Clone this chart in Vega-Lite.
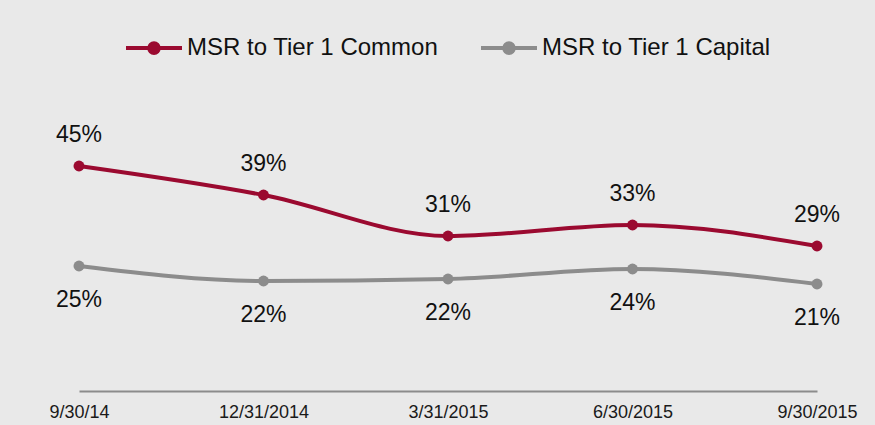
{
  "$schema": "https://vega.github.io/schema/vega-lite/v6.json",
  "width": 738,
  "height": 300,
  "autosize": "none",
  "padding": {"left": 79, "top": 91, "right": 58, "bottom": 34},
  "background": "#e9e9e9",
  "config": {"view": {"stroke": null}, "font": "Liberation Sans"},
  "data": {
    "values": [
      {"date": "9/30/14", "series": "MSR to Tier 1 Common", "value": 0.45},
      {"date": "12/31/2014", "series": "MSR to Tier 1 Common", "value": 0.392},
      {"date": "3/31/2015", "series": "MSR to Tier 1 Common", "value": 0.31},
      {"date": "6/30/2015", "series": "MSR to Tier 1 Common", "value": 0.332},
      {"date": "9/30/2015", "series": "MSR to Tier 1 Common", "value": 0.29},
      {"date": "9/30/14", "series": "MSR to Tier 1 Capital", "value": 0.25},
      {"date": "12/31/2014", "series": "MSR to Tier 1 Capital", "value": 0.22},
      {"date": "3/31/2015", "series": "MSR to Tier 1 Capital", "value": 0.224},
      {"date": "6/30/2015", "series": "MSR to Tier 1 Capital", "value": 0.244},
      {"date": "9/30/2015", "series": "MSR to Tier 1 Capital", "value": 0.214}
    ]
  },
  "encoding": {
    "x": {
      "field": "date",
      "type": "ordinal",
      "sort": null,
      "scale": {"type": "point", "padding": 0},
      "axis": {
        "title": null,
        "ticks": false,
        "grid": false,
        "labelAngle": 0,
        "labelFontSize": 18,
        "labelColor": "#1a1a1a",
        "labelPadding": 12,
        "domainColor": "#8c8c8c",
        "domainWidth": 2
      }
    },
    "y": {
      "field": "value",
      "type": "quantitative",
      "scale": {"domain": [0, 0.6]},
      "axis": null
    },
    "color": {
      "field": "series",
      "type": "nominal",
      "scale": {
        "domain": ["MSR to Tier 1 Common", "MSR to Tier 1 Capital"],
        "range": ["#9b0a30", "#8c8c8c"]
      },
      "legend": {
        "orient": "none",
        "legendX": 45,
        "legendY": -73,
        "direction": "horizontal",
        "title": null,
        "symbolType": "M-1,0L1,0M-0.17,0A0.17,0.17,0,1,0,0.17,0A0.17,0.17,0,1,0,-0.17,0M-0.08,0A0.08,0.08,0,1,0,0.08,0A0.08,0.08,0,1,0,-0.08,0",
        "symbolSize": 3136,
        "symbolStrokeWidth": 4,
        "labelFontSize": 24,
        "labelColor": "#111111",
        "labelOffset": 3,
        "labelLimit": 400,
        "columnPadding": 34,
        "padding": 0
      }
    }
  },
  "layer": [
    {"mark": {"type": "line", "interpolate": "monotone", "strokeWidth": 4}},
    {"mark": {"type": "point", "filled": true, "size": 120, "opacity": 1, "strokeWidth": 0}},
    {
      "transform": [{"filter": "datum.series === 'MSR to Tier 1 Common'"}],
      "mark": {"type": "text", "dy": -31, "fontSize": 23, "baseline": "middle"},
      "encoding": {"text": {"field": "value", "format": ".0%"}, "color": {"value": "#111111"}}
    },
    {
      "transform": [{"filter": "datum.series === 'MSR to Tier 1 Capital'"}],
      "mark": {"type": "text", "dy": 34, "fontSize": 23, "baseline": "middle"},
      "encoding": {"text": {"field": "value", "format": ".0%"}, "color": {"value": "#111111"}}
    }
  ]
}
